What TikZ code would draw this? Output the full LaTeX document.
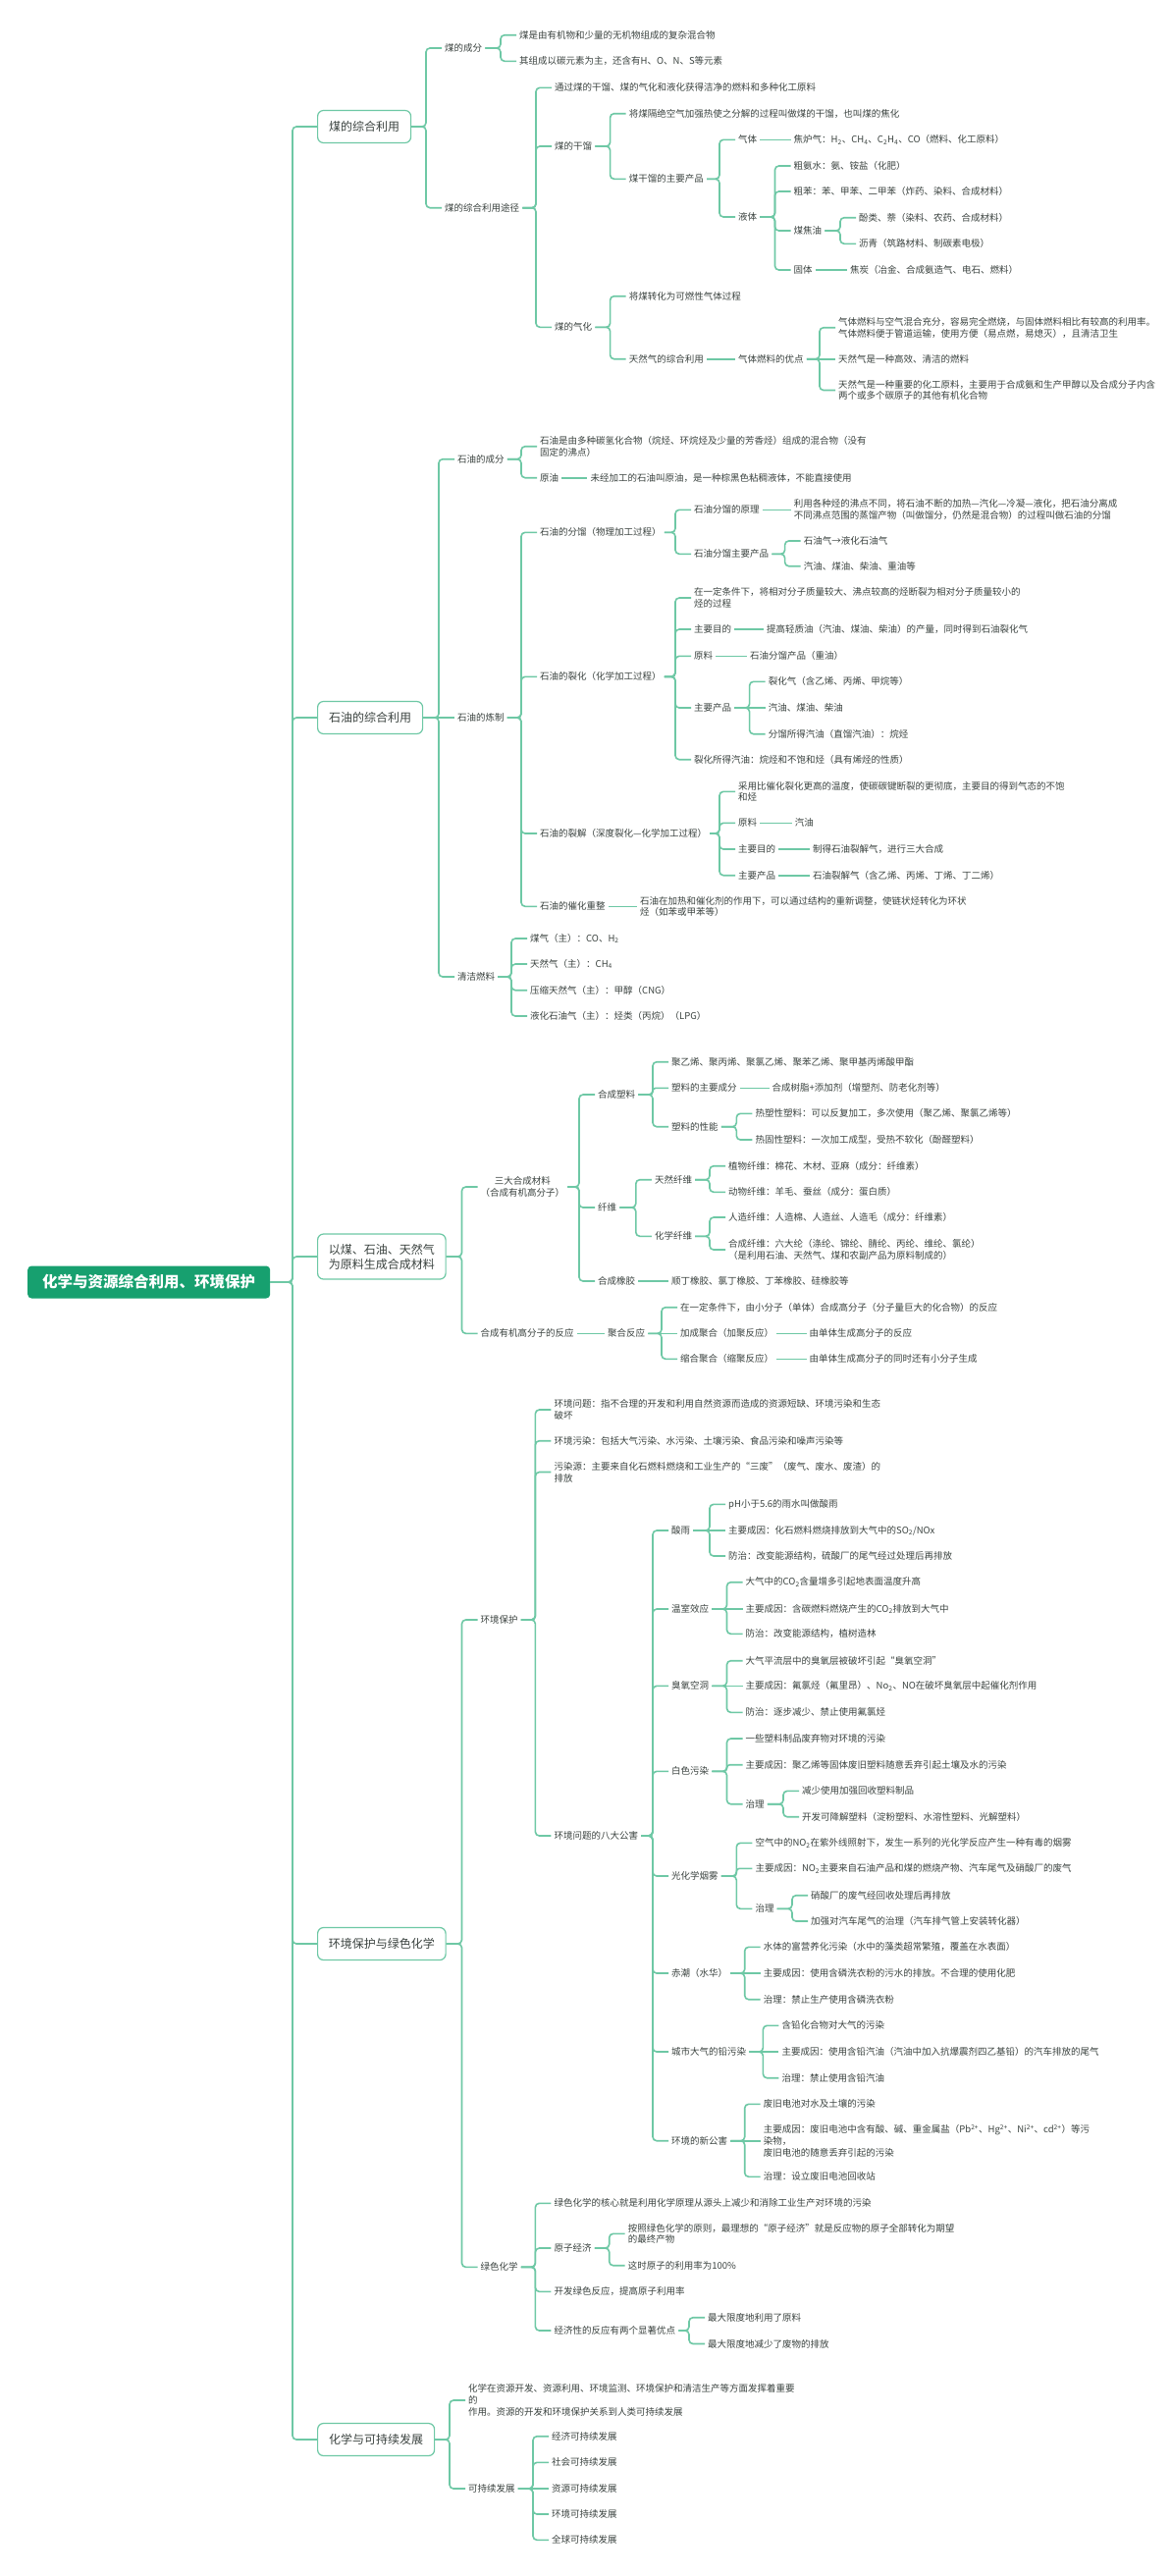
\documentclass[tikz,border=0pt]{standalone}
\usepackage{fontspec}
\setmainfont{Noto Sans CJK SC}
\usetikzlibrary{calc}
\definecolor{lc}{HTML}{6EC8A5}
\definecolor{tc}{HTML}{3B4340}
\definecolor{rootc}{HTML}{17A06F}
\tikzset{
  conn/.style={draw=lc, line width=1.6pt, rounded corners=4pt},
  tx/.style={anchor=west, inner sep=3pt, text=tc, font=\fontsize{9.5}{11.7}\selectfont, align=left},
  lvl/.style={draw=lc, line width=1.2pt, rounded corners=6pt, fill=white, text=tc,
    font=\fontsize{12}{15}\selectfont, anchor=west, minimum height=33pt, align=center, inner xsep=0pt},
  rootbox/.style={fill=rootc, rounded corners=4pt, text=white, font=\fontsize{15.5}{18}\selectfont\bfseries,
    anchor=west, minimum height=33pt, minimum width=247pt, inner xsep=0pt}
}
\newcommand\kid[3][]{\path (#3.west) ++(-16,0) coordinate (sp);\draw[conn,#1] (#2.east) -- (sp |- #2.east) |- (#3.west);}
\newcommand\kidS[2]{\draw[conn] (#1.east) -- (#1.east -| #2.west);}
\newcommand\kidroot[1]{\path (#1.west) ++(-25,0) coordinate (sp);\draw[conn] (root.east) -- (sp |- root.east) |- (#1.west);}
\begin{document}
\begin{tikzpicture}[x=1pt,y=-1pt]
\useasboundingbox (0,0) rectangle (1192,2624);
\fill[white] (0,0) rectangle (1192,2624);

% root and level 1
\node[rootbox] (root) at (28,1306) {化学与资源综合利用、环境保护};
\node[lvl, minimum width=95pt] (L1) at (323,129) {煤的综合利用};
\node[lvl, minimum width=107pt] (L2) at (323,731) {石油的综合利用};
\node[lvl, minimum width=130.5pt, minimum height=46pt] (L3) at (323,1280) {以煤、石油、天然气\\为原料生成合成材料};
\node[lvl, minimum width=130.5pt] (L4) at (323,1980) {环境保护与绿色化学};
\node[lvl, minimum width=119pt] (L5) at (323,2485) {化学与可持续发展};
\kidroot{L1}\kidroot{L2}\kidroot{L3}\kidroot{L4}\kidroot{L5}

% ===== branch 1
\node[tx] (a1) at (450,49) {煤的成分};
\node[tx] (a1a) at (526,35.7) {煤是由有机物和少量的无机物组成的复杂混合物};
\node[tx] (a1b) at (526,62.3) {其组成以碳元素为主，还含有H、O、N、S等元素};
\node[tx] (a2) at (450,211.7) {煤的综合利用途径};
\node[tx] (a2a) at (562,89.3) {通过煤的干馏、煤的气化和液化获得洁净的燃料和多种化工原料};
\node[tx] (a2b) at (562,149) {煤的干馏};
\node[tx] (a2b1) at (637.6,115.7) {将煤隔绝空气加强热使之分解的过程叫做煤的干馏，也叫煤的焦化};
\node[tx] (a2b2) at (637.6,182.3) {煤干馏的主要产品};
\node[tx] (gas) at (749,142.3) {气体};
\node[tx] (gas1) at (805.5,142.3) {焦炉气：H\textsubscript{2}、CH\textsubscript{4}、C\textsubscript{2}H\textsubscript{4}、CO（燃料、化工原料）};
\node[tx] (liq) at (749,221) {液体};
\node[tx] (liq1) at (805.5,169) {粗氨水：氨、铵盐（化肥）};
\node[tx] (liq2) at (805.5,195) {粗苯：苯、甲苯、二甲苯（炸药、染料、合成材料）};
\node[tx] (liq3) at (805.5,235) {煤焦油};
\node[tx] (liq3a) at (872,221.7) {酚类、萘（染料、农药、合成材料）};
\node[tx] (liq3b) at (872,248.3) {沥青（筑路材料、制碳素电极）};
\node[tx] (sol) at (805.5,275) {固体};
\node[tx] (sol1) at (863,275) {焦炭（冶金、合成氨造气、电石、燃料）};
\node[tx] (a2c) at (562,333.3) {煤的气化};
\node[tx] (a2c1) at (637.6,301.7) {将煤转化为可燃性气体过程};
\node[tx] (a2c2) at (637.6,365.7) {天然气的综合利用};
\node[tx] (a2c2a) at (749,365.7) {气体燃料的优点};
\node[tx] (q1) at (851,333.7) {气体燃料与空气混合充分，容易完全燃烧，与固体燃料相比有较高的利用率。\\气体燃料便于管道运输，使用方便（易点燃，易熄灭），且清洁卫生};
\node[tx] (q2) at (851,365.7) {天然气是一种高效、清洁的燃料};
\node[tx] (q3) at (851,397.5) {天然气是一种重要的化工原料，主要用于合成氨和生产甲醇以及合成分子内含\\两个或多个碳原子的其他有机化合物};

\kid{L1}{a1}\kid{L1}{a2}
\kid{a1}{a1a}\kid{a1}{a1b}
\kid{a2}{a2a}\kid{a2}{a2b}\kid{a2}{a2c}
\kid{a2b}{a2b1}\kid{a2b}{a2b2}
\kid{a2b2}{gas}\kid{a2b2}{liq}
\kidS{gas}{gas1}
\kid{liq}{liq1}\kid{liq}{liq2}\kid{liq}{liq3}\kid{liq}{sol}
\kid{liq3}{liq3a}\kid{liq3}{liq3b}
\kidS{sol}{sol1}
\kid{a2c}{a2c1}\kid{a2c}{a2c2}
\kidS{a2c2}{a2c2a}
\kid{a2c2a}{q1}\kidS{a2c2a}{q2}\kid{a2c2a}{q3}

% ===== branch 2
\node[tx] (b1) at (463,467.7) {石油的成分};
\node[tx] (b1a) at (547,454.7) {石油是由多种碳氢化合物（烷烃、环烷烃及少量的芳香烃）组成的混合物（没有\\固定的沸点）};
\node[tx] (b1b) at (547,486.7) {原油};
\node[tx] (b1b1) at (598.3,486.7) {未经加工的石油叫原油，是一种棕黑色粘稠液体，不能直接使用};
\node[tx] (b2) at (463,731) {石油的炼制};
\node[tx] (c1) at (547,542.3) {石油的分馏（物理加工过程）};
\node[tx] (c1a) at (704,519.3) {石油分馏的原理};
\node[tx] (c1a1) at (805.7,519.3) {利用各种烃的沸点不同，将石油不断的加热—汽化—冷凝—液化，把石油分离成\\不同沸点范围的蒸馏产物（叫做馏分，仍然是混合物）的过程叫做石油的分馏};
\node[tx] (c1b) at (704,564.3) {石油分馏主要产品};
\node[tx] (c1b1) at (815.6,551) {石油气→液化石油气};
\node[tx] (c1b2) at (815.6,576.7) {汽油、煤油、柴油、重油等};
\node[tx] (c2) at (547,689.3) {石油的裂化（化学加工过程）};
\node[tx] (c2a) at (704,609) {在一定条件下，将相对分子质量较大、沸点较高的烃断裂为相对分子质量较小的\\烃的过程};
\node[tx] (c2b) at (704,641) {主要目的};
\node[tx] (c2b1) at (778,641) {提高轻质油（汽油、煤油、柴油）的产量，同时得到石油裂化气};
\node[tx] (c2c) at (704,668.3) {原料};
\node[tx] (c2c1) at (761,668.3) {石油分馏产品（重油）};
\node[tx] (c2d) at (704,721) {主要产品};
\node[tx] (c2d1) at (779.6,694.3) {裂化气（含乙烯、丙烯、甲烷等）};
\node[tx] (c2d2) at (779.6,721) {汽油、煤油、柴油};
\node[tx] (c2d3) at (779.6,747.7) {分馏所得汽油（直馏汽油）：烷烃};
\node[tx] (c2e) at (704,773.7) {裂化所得汽油：烷烃和不饱和烃（具有烯烃的性质）};
\node[tx] (c3) at (547,849) {石油的裂解（深度裂化—化学加工过程）};
\node[tx] (c3a) at (749,806.3) {采用比催化裂化更高的温度，使碳碳键断裂的更彻底，主要目的得到气态的不饱\\和烃};
\node[tx] (c3b) at (749,838.3) {原料};
\node[tx] (c3b1) at (806.7,838.3) {汽油};
\node[tx] (c3c) at (749,865) {主要目的};
\node[tx] (c3c1) at (825,865) {制得石油裂解气，进行三大合成};
\node[tx] (c3d) at (749,891.7) {主要产品};
\node[tx] (c3d1) at (825,891.7) {石油裂解气（含乙烯、丙烯、丁烯、丁二烯）};
\node[tx] (c4) at (547,923.3) {石油的催化重整};
\node[tx] (c4a) at (649,923.3) {石油在加热和催化剂的作用下，可以通过结构的重新调整，使链状烃转化为环状\\烃（如苯或甲苯等）};
\node[tx] (b3) at (463,995) {清洁燃料};
\node[tx] (d1) at (537,956) {煤气（主）：CO、H\textsubscript{2}};
\node[tx] (d2) at (537,982) {天然气（主）：CH\textsubscript{4}};
\node[tx] (d3) at (537,1008.7) {压缩天然气（主）：甲醇（CNG）};
\node[tx] (d4) at (537,1035) {液化石油气（主）：烃类（丙烷）（LPG）};

\kid{L2}{b1}\kidS{L2}{b2}\kid{L2}{b3}
\kid{b1}{b1a}\kid{b1}{b1b}
\kidS{b1b}{b1b1}
\kid{b2}{c1}\kid{b2}{c2}\kid{b2}{c3}\kid{b2}{c4}
\kid{c1}{c1a}\kid{c1}{c1b}
\kidS{c1a}{c1a1}
\kid{c1b}{c1b1}\kid{c1b}{c1b2}
\kid{c2}{c2a}\kid{c2}{c2b}\kid{c2}{c2c}\kid{c2}{c2d}\kid{c2}{c2e}
\kidS{c2b}{c2b1}\kidS{c2c}{c2c1}
\kid{c2d}{c2d1}\kidS{c2d}{c2d2}\kid{c2d}{c2d3}
\kid{c3}{c3a}\kid{c3}{c3b}\kid{c3}{c3c}\kid{c3}{c3d}
\kidS{c3b}{c3b1}\kidS{c3c}{c3c1}\kidS{c3d}{c3d1}
\kidS{c4}{c4a}
\kid{b3}{d1}\kid{b3}{d2}\kid{b3}{d3}\kid{b3}{d4}

% ===== branch 3
\node[tx, align=center] (e1) at (486.5,1209) {三大合成材料\\（合成有机高分子）};
\node[tx] (e1a) at (606,1115) {合成塑料};
\node[tx] (e1a1) at (681,1081.7) {聚乙烯、聚丙烯、聚氯乙烯、聚苯乙烯、聚甲基丙烯酸甲酯};
\node[tx] (e1a2) at (681,1108.3) {塑料的主要成分};
\node[tx] (e1a2a) at (783.5,1108.3) {合成树脂+添加剂（增塑剂、防老化剂等）};
\node[tx] (e1a3) at (681,1147.7) {塑料的性能};
\node[tx] (e1a3a) at (766.3,1134.3) {热塑性塑料：可以反复加工，多次使用（聚乙烯、聚氯乙烯等）};
\node[tx] (e1a3b) at (766.3,1161) {热固性塑料：一次加工成型，受热不软化（酚醛塑料）};
\node[tx] (e1b) at (606,1230) {纤维};
\node[tx] (e1b1) at (663.8,1201.7) {天然纤维};
\node[tx] (e1b1a) at (739,1187.7) {植物纤维：棉花、木材、亚麻（成分：纤维素）};
\node[tx] (e1b1b) at (739,1214.3) {动物纤维：羊毛、蚕丝（成分：蛋白质）};
\node[tx] (e1b2) at (663.8,1259.3) {化学纤维};
\node[tx] (e1b2a) at (739,1240) {人造纤维：人造棉、人造丝、人造毛（成分：纤维素）};
\node[tx] (e1b2b) at (739,1273) {合成纤维：六大纶（涤纶、锦纶、腈纶、丙纶、维纶、氯纶）\\（是利用石油、天然气、煤和农副产品为原料制成的）};
\node[tx] (e1c) at (606,1305) {合成橡胶};
\node[tx] (e1c1) at (681,1305) {顺丁橡胶、氯丁橡胶、丁苯橡胶、硅橡胶等};
\node[tx] (e2) at (486.5,1358.3) {合成有机高分子的反应};
\node[tx] (e2a) at (616,1358.3) {聚合反应};
\node[tx] (e2a1) at (690,1331.7) {在一定条件下，由小分子（单体）合成高分子（分子量巨大的化合物）的反应};
\node[tx] (e2a2) at (690,1358.3) {加成聚合（加聚反应）};
\node[tx] (e2a2a) at (821.5,1358.3) {由单体生成高分子的反应};
\node[tx] (e2a3) at (690,1384.3) {缩合聚合（缩聚反应）};
\node[tx] (e2a3a) at (821.5,1384.3) {由单体生成高分子的同时还有小分子生成};

\kid{L3}{e1}\kid{L3}{e2}
\kid{e1}{e1a}\kid{e1}{e1b}\kid{e1}{e1c}
\kid{e1a}{e1a1}\kid[rounded corners=3pt]{e1a}{e1a2}\kid{e1a}{e1a3}
\kidS{e1a2}{e1a2a}
\kid{e1a3}{e1a3a}\kid{e1a3}{e1a3b}
\kid{e1b}{e1b1}\kid{e1b}{e1b2}
\kid{e1b1}{e1b1a}\kid{e1b1}{e1b1b}
\kid{e1b2}{e1b2a}\kid{e1b2}{e1b2b}
\kidS{e1c}{e1c1}
\kidS{e2}{e2a}
\kid{e2a}{e2a1}\kidS{e2a}{e2a2}\kid{e2a}{e2a3}
\kidS{e2a2}{e2a2a}\kidS{e2a3}{e2a3a}

% ===== branch 4
\node[tx] (f1) at (486.5,1650) {环境保护};
\node[tx] (f1a) at (561.4,1436) {环境问题：指不合理的开发和利用自然资源而造成的资源短缺、环境污染和生态\\破坏};
\node[tx] (f1b) at (561.4,1467.7) {环境污染：包括大气污染、水污染、土壤污染、食品污染和噪声污染等};
\node[tx] (f1c) at (561.4,1499.5) {污染源：主要来自化石燃料燃烧和工业生产的“三废”（废气、废水、废渣）的\\排放};
\node[tx] (f1d) at (561.4,1870) {环境问题的八大公害};
\node[tx] (g1) at (681,1559) {酸雨};
\node[tx] (g1a) at (739,1532.3) {pH小于5.6的雨水叫做酸雨};
\node[tx] (g1b) at (739,1559) {主要成因：化石燃料燃烧排放到大气中的SO\textsubscript{2}/NOx};
\node[tx] (g1c) at (739,1585) {防治：改变能源结构，硫酸厂的尾气经过处理后再排放};
\node[tx] (g2) at (681,1639) {温室效应};
\node[tx] (g2a) at (756.5,1611.7) {大气中的CO\textsubscript{2}含量增多引起地表面温度升高};
\node[tx] (g2b) at (756.5,1639) {主要成因：含碳燃料燃烧产生的CO\textsubscript{2}排放到大气中};
\node[tx] (g2c) at (756.5,1664.3) {防治：改变能源结构，植树造林};
\node[tx] (g3) at (681,1717.3) {臭氧空洞};
\node[tx] (g3a) at (756.5,1691.7) {大气平流层中的臭氧层被破坏引起“臭氧空洞”};
\node[tx] (g3b) at (756.5,1717.3) {主要成因：氟氯烃（氟里昂）、No\textsubscript{2}、NO在破坏臭氧层中起催化剂作用};
\node[tx] (g3c) at (756.5,1744.3) {防治：逐步减少、禁止使用氟氯烃};
\node[tx] (g4) at (681,1804.3) {白色污染};
\node[tx] (g4a) at (756.5,1771) {一些塑料制品废弃物对环境的污染};
\node[tx] (g4b) at (756.5,1797.7) {主要成因：聚乙烯等固体废旧塑料随意丢弃引起土壤及水的污染};
\node[tx] (g4c) at (756.5,1837.7) {治理};
\node[tx] (g4c1) at (814,1824.3) {减少使用加强回收塑料制品};
\node[tx] (g4c2) at (814,1850.7) {开发可降解塑料（淀粉塑料、水溶性塑料、光解塑料）};
\node[tx] (g5) at (681,1911) {光化学烟雾};
\node[tx] (g5a) at (766.3,1877.3) {空气中的NO\textsubscript{2}在紫外线照射下，发生一系列的光化学反应产生一种有毒的烟雾};
\node[tx] (g5b) at (766.3,1903.3) {主要成因：NO\textsubscript{2}主要来自石油产品和煤的燃烧产物、汽车尾气及硝酸厂的废气};
\node[tx] (g5c) at (766.3,1944.3) {治理};
\node[tx] (g5c1) at (823,1930.7) {硝酸厂的废气经回收处理后再排放};
\node[tx] (g5c2) at (823,1957) {加强对汽车尾气的治理（汽车排气管上安装转化器）};
\node[tx] (g6) at (681,2010) {赤潮（水华）};
\node[tx] (g6a) at (774.7,1983.3) {水体的富营养化污染（水中的藻类超常繁殖，覆盖在水表面）};
\node[tx] (g6b) at (774.7,2010) {主要成因：使用含磷洗衣粉的污水的排放。不合理的使用化肥};
\node[tx] (g6c) at (774.7,2036.7) {治理：禁止生产使用含磷洗衣粉};
\node[tx] (g7) at (681,2090) {城市大气的铅污染};
\node[tx] (g7a) at (793.4,2063.3) {含铅化合物对大气的污染};
\node[tx] (g7b) at (793.4,2090) {主要成因：使用含铅汽油（汽油中加入抗爆震剂四乙基铅）的汽车排放的尾气};
\node[tx] (g7c) at (793.4,2116.7) {治理：禁止使用含铅汽油};
\node[tx] (g8) at (681,2180.7) {环境的新公害};
\node[tx] (g8a) at (774.7,2143.3) {废旧电池对水及土壤的污染};
\node[tx] (g8b) at (774.7,2180.7) {主要成因：废旧电池中含有酸、碱、重金属盐（Pb\textsuperscript{2+}、Hg\textsuperscript{2+}、Ni\textsuperscript{2+}、cd\textsuperscript{2+}）等污\\染物，\\废旧电池的随意丢弃引起的污染};
\node[tx] (g8c) at (774.7,2217.3) {治理：设立废旧电池回收站};
\node[tx] (f2) at (486.5,2309.3) {绿色化学};
\node[tx] (f2a) at (561.4,2244.3) {绿色化学的核心就是利用化学原理从源头上减少和消除工业生产对环境的污染};
\node[tx] (f2b) at (561.4,2290) {原子经济};
\node[tx] (f2b1) at (636.7,2275.3) {按照绿色化学的原则，最理想的“原子经济”就是反应物的原子全部转化为期望\\的最终产物};
\node[tx] (f2b2) at (636.7,2307.7) {这时原子的利用率为100\%};
\node[tx] (f2c) at (561.4,2334.3) {开发绿色反应，提高原子利用率};
\node[tx] (f2d) at (561.4,2374) {经济性的反应有两个显著优点};
\node[tx] (f2d1) at (718,2360.7) {最大限度地利用了原料};
\node[tx] (f2d2) at (718,2387.5) {最大限度地减少了废物的排放};

\kid{L4}{f1}\kid{L4}{f2}
\kid{f1}{f1a}\kid{f1}{f1b}\kid{f1}{f1c}\kid{f1}{f1d}
\kid{f1d}{g1}\kid{f1d}{g2}\kid{f1d}{g3}\kid{f1d}{g4}\kid{f1d}{g5}\kid{f1d}{g6}\kid{f1d}{g7}\kid{f1d}{g8}
\kid{g1}{g1a}\kidS{g1}{g1b}\kid{g1}{g1c}
\kid{g2}{g2a}\kidS{g2}{g2b}\kid{g2}{g2c}
\kid{g3}{g3a}\kidS{g3}{g3b}\kid{g3}{g3c}
\kid{g4}{g4a}\kid[rounded corners=3pt]{g4}{g4b}\kid{g4}{g4c}
\kid{g4c}{g4c1}\kid{g4c}{g4c2}
\kid{g5}{g5a}\kid[rounded corners=3pt]{g5}{g5b}\kid{g5}{g5c}
\kid{g5c}{g5c1}\kid{g5c}{g5c2}
\kid{g6}{g6a}\kidS{g6}{g6b}\kid{g6}{g6c}
\kid{g7}{g7a}\kidS{g7}{g7b}\kid{g7}{g7c}
\kid{g8}{g8a}\kidS{g8}{g8b}\kid{g8}{g8c}
\kid{f2}{f2a}\kid{f2}{f2b}\kid{f2}{f2c}\kid{f2}{f2d}
\kid{f2b}{f2b1}\kid{f2b}{f2b2}
\kid{f2d}{f2d1}\kid{f2d}{f2d2}

% ===== branch 5
\node[tx] (h1) at (474,2445) {化学在资源开发、资源利用、环境监测、环境保护和清洁生产等方面发挥着重要\\的\\作用。资源的开发和环境保护关系到人类可持续发展};
\node[tx] (h2) at (474,2535) {可持续发展};
\node[tx] (h2a) at (559,2481.7) {经济可持续发展};
\node[tx] (h2b) at (559,2508.3) {社会可持续发展};
\node[tx] (h2c) at (559,2535) {资源可持续发展};
\node[tx] (h2d) at (559,2561) {环境可持续发展};
\node[tx] (h2e) at (559,2587.3) {全球可持续发展};

\kid{L5}{h1}\kid{L5}{h2}
\kid{h2}{h2a}\kid{h2}{h2b}\kidS{h2}{h2c}\kid{h2}{h2d}\kid{h2}{h2e}
\end{tikzpicture}
\end{document}
